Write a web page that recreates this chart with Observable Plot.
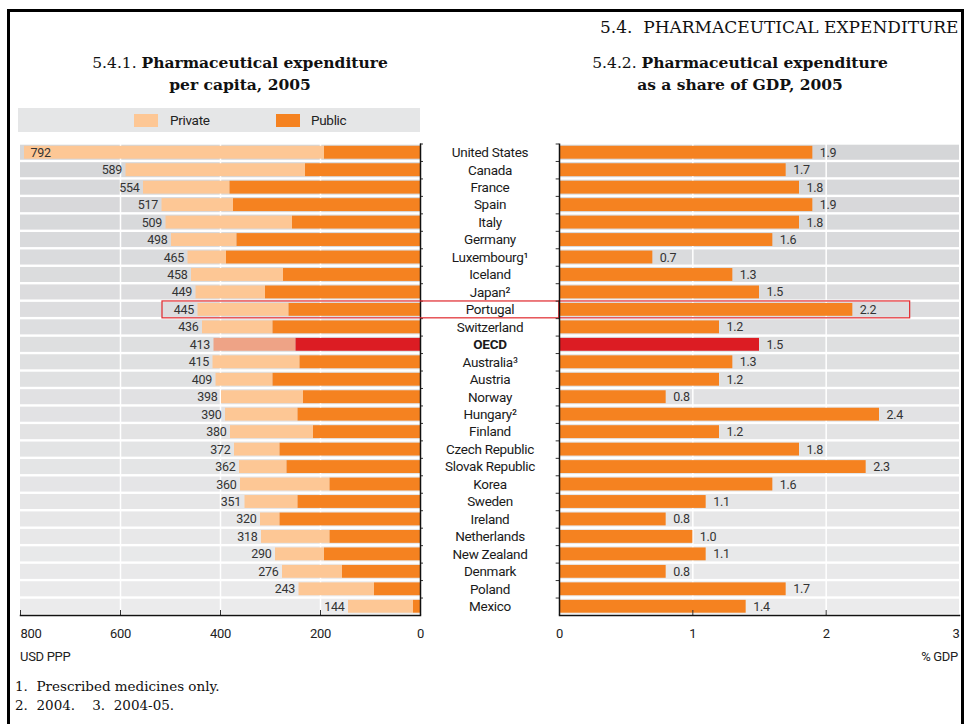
<!DOCTYPE html>
<html>
<head>
<meta charset="utf-8">
<script src="https://cdn.jsdelivr.net/npm/d3@7"></script>
<script src="https://cdn.jsdelivr.net/npm/@observablehq/plot@0.6"></script>
<style>
  body { margin: 0; background: white; }
  #chart { position: relative; width: 967px; height: 724px; overflow: hidden; background: white; }
  #frame { position: absolute; left: 7px; top: 9px; width: 951px; height: 760px; border: 3px solid #000; }
  .serif { font-family: "DejaVu Serif", "Liberation Serif", serif; color: #111; position: absolute; }
  .sans { font-family: Roboto, "Liberation Sans", sans-serif; color: #222; position: absolute; letter-spacing: -0.3px; }
  .title { font-size: 15.5px; text-align: center; line-height: 22px; }
  .title b { font-weight: bold; }
  #legend { position: absolute; left: 18px; top: 108px; width: 402px; height: 24px; background: #e5e6e7; }
  .sw { position: absolute; top: 6px; width: 24px; height: 13px; }
  .plot { position: absolute; top: 0; }
</style>
</head>
<body>
<div id="chart">
  <div class="serif" style="left:600px; top:17px; font-size:17px; white-space:nowrap;">5.4.&nbsp; PHARMACEUTICAL EXPENDITURE</div>
  <div id="frame"></div>
  <div class="serif title" style="left:40px; width:400px; top:52px;">5.4.1.&nbsp;<b>Pharmaceutical expenditure</b><br><b>per capita, 2005</b></div>
  <div class="serif title" style="left:540px; width:400px; top:52px;">5.4.2.&nbsp;<b>Pharmaceutical expenditure</b><br><b>as a share of GDP, 2005</b></div>
  <div id="legend">
    <div class="sw" style="left:116px; background:#fdc795;"></div>
    <div class="sans" style="left:152px; top:4px; font-size:13.5px;">Private</div>
    <div class="sw" style="left:258px; background:#f58220;"></div>
    <div class="sans" style="left:293px; top:4px; font-size:13.5px;">Public</div>
  </div>
  <div class="sans" style="left:20px; top:649px; font-size:13px;">USD PPP</div>
  <div class="sans" style="left:858px; width:100px; text-align:right; top:649px; font-size:13px;">% GDP</div>
  <div class="serif" style="left:15px; top:677px; font-size:13.5px; line-height:19px;">1.&nbsp; Prescribed medicines only.<br>2.&nbsp; 2004.&nbsp;&nbsp;&nbsp; 3.&nbsp; 2004-05.</div>
</div>
<script>
const countries = ["United States","Canada","France","Spain","Italy","Germany","Luxembourg¹","Iceland","Japan²","Portugal","Switzerland","OECD","Australia³","Austria","Norway","Hungary²","Finland","Czech Republic","Slovak Republic","Korea","Sweden","Ireland","Netherlands","New Zealand","Denmark","Poland","Mexico"];
const totalPerCapita = [792,589,554,517,509,498,465,458,449,445,436,413,415,409,398,390,380,372,362,360,351,320,318,290,276,243,144];
const publicPerCapita = [192,230,381,374,256,367,388,274,310,263,295,249,241,295,234,245,214,281,267,181,245,281,181,192,156,92,14];
const shareGDP = [1.9,1.7,1.8,1.9,1.8,1.6,0.7,1.3,1.5,2.2,1.2,1.5,1.3,1.2,0.8,2.4,1.2,1.8,2.3,1.6,1.1,0.8,1.0,1.1,0.8,1.7,1.4];
const leftTicks = [800,600,400,200,0];
const rightTicks = [0,1,2,3];
const highlightCountry = "Portugal";
const highlightFromUSD = 516;
const highlightToGDP = 2.63;

const rows = countries.map((c, i) => ({
  country: c, total: totalPerCapita[i], pub: publicPerCapita[i], gdp: shareGDP[i],
  oecd: c === "OECD", i
}));

const H = 660, MT = 143.5, MB = 45;
const plotH = H - MT - MB;
const step = plotH / countries.length;
const grayAt = d3.interpolateRgb("#d5d6d8", "#ebebec");
const bgFill = d => grayAt(d.i / (countries.length - 1));
const font = 'Roboto, "Liberation Sans", sans-serif';
const ORANGE = "#f58220", PEACH = "#fdc795", RED = "#dc1c23", PINK = "#eea386", HL = "#e0282d";

const common = {
  height: H, marginTop: MT, marginBottom: MB,
  y: {type: "band", domain: countries, padding: 0, round: false, axis: null},
  color: {type: "identity"},
  style: {fontFamily: font, fontSize: "13px", color: "#222", background: "transparent", overflow: "visible", letterSpacing: "-0.3px"}
};
const tickFmt = d => String(d);

const left = Plot.plot({
  ...common,
  width: 559, marginLeft: 20, marginRight: 139,
  x: {domain: [800, 0], axis: null},
  marks: [
    Plot.barX(rows, {y: "country", x1: () => 800, x2: () => 0, fill: bgFill, insetTop: 1.2, insetBottom: 1.2}),
    Plot.ruleX([600, 400, 200], {stroke: "white", strokeWidth: 1.5}),
    Plot.barX(rows, {y: "country", x1: "pub", x2: "total", fill: d => d.oecd ? PINK : PEACH, insetTop: 2.3, insetBottom: 2.3}),
    Plot.barX(rows, {y: "country", x1: () => 0, x2: "pub", fill: d => d.oecd ? RED : ORANGE, insetTop: 2.3, insetBottom: 2.3}),
    Plot.ruleX(leftTicks, {x: d => d, stroke: "#333", insetTop: plotH - 5}),
    Plot.ruleY(rows, {y: "country", x1: () => 0, x2: () => -6, dy: -step / 2, stroke: "#333", clip: false}),
    Plot.ruleX([0], {stroke: "#111", strokeWidth: 1.5}),
    Plot.frame({anchor: "bottom", stroke: "#111", strokeWidth: 1.5}),
    Plot.text(rows.filter(d => d.total < 760), {y: "country", x: "total", text: d => String(d.total), textAnchor: "end", dx: -4, fill: "#333", fontSize: 12.5}),
    Plot.text(rows.filter(d => d.total >= 760), {y: "country", x: "total", text: d => String(d.total), textAnchor: "start", dx: 6, fill: "#333", fontSize: 12.5}),
    Plot.text(rows.filter(d => !d.oecd), {y: "country", x: () => 0, dx: 69.5, text: "country", fill: "#1a1a1a", fontSize: 13.5}),
    Plot.text(rows.filter(d => d.oecd), {y: "country", x: () => 0, dx: 69.5, text: "country", fill: "#1a1a1a", fontSize: 13.5, fontWeight: "bold"}),
    Plot.barX(rows.filter(d => d.country === highlightCountry), {y: "country", x1: () => highlightFromUSD, x2: () => 0, insetRight: -139, insetTop: 0.3, insetBottom: 0.3, fill: "none", stroke: HL, strokeWidth: 1.2}),
    Plot.axisX([800], {tickSize: 0, tickPadding: 13, fontSize: 13, fill: "#222", label: null, textAnchor: "start", tickFormat: tickFmt}),
    Plot.axisX([600, 400, 200, 0], {tickSize: 0, tickPadding: 13, fontSize: 13, fill: "#222", label: null, tickFormat: tickFmt})
  ]
});
left.classList.add("plot");
left.style.left = "0px";

const right = Plot.plot({
  ...common,
  width: 418, marginLeft: 10, marginRight: 8,
  x: {domain: [0, 3], axis: null},
  marks: [
    Plot.barX(rows, {y: "country", x1: () => 0, x2: () => 3, fill: bgFill, insetTop: 1.2, insetBottom: 1.2}),
    Plot.ruleX([1, 2], {stroke: "white", strokeWidth: 1.5}),
    Plot.barX(rows, {y: "country", x1: () => 0, x2: "gdp", fill: d => d.oecd ? RED : ORANGE, insetTop: 2.3, insetBottom: 2.3}),
    Plot.text(rows, {y: "country", x: "gdp", text: d => d.gdp.toFixed(1), textAnchor: "start", dx: 7, fill: "#333", fontSize: 12.5}),
    Plot.barX(rows.filter(d => d.country === highlightCountry), {y: "country", x1: () => 0, x2: () => highlightToGDP, insetTop: 0.3, insetBottom: 0.3, fill: "none", stroke: HL, strokeWidth: 1.2}),
    Plot.ruleX([1, 2], {stroke: "#333", insetTop: plotH - 5}),
    Plot.ruleY(rows, {y: "country", x1: () => 0, x2: () => -0.025, dy: -step / 2, stroke: "#333", clip: false}),
    Plot.ruleX([0], {stroke: "#111", strokeWidth: 1.5}),
    Plot.frame({anchor: "bottom", stroke: "#111", strokeWidth: 1.5}),
    Plot.axisX([0, 1, 2], {tickSize: 0, tickPadding: 13, fontSize: 13, fill: "#222", label: null, tickFormat: tickFmt}),
    Plot.axisX([3], {tickSize: 0, tickPadding: 13, fontSize: 13, fill: "#222", label: null, textAnchor: "end", tickFormat: tickFmt})
  ]
});
right.classList.add("plot");
right.style.left = "549px";

const chart = document.getElementById("chart");
chart.appendChild(left);
chart.appendChild(right);
</script>
</body>
</html>
